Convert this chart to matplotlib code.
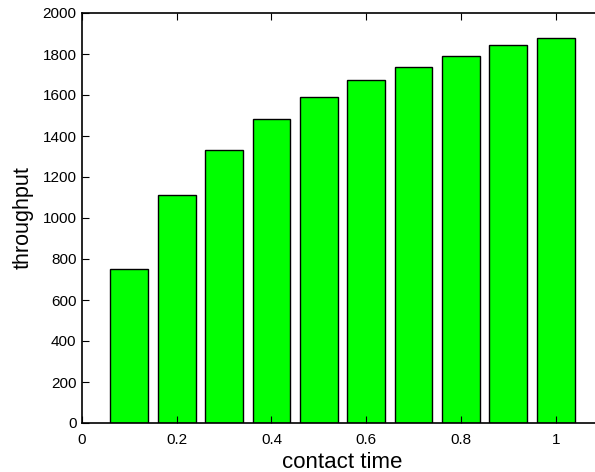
import numpy as np
import matplotlib.pyplot as plt

# ── Data ──────────────────────────────────────────────────────────────────────
contact_time = [0.1, 0.2, 0.3, 0.4, 0.5, 0.6, 0.7, 0.8, 0.9, 1.0]
throughput = [750, 1110, 1330, 1485, 1590, 1675, 1735, 1790, 1845, 1880]
x_ticks = [0, 0.2, 0.4, 0.6, 0.8, 1.0]
x_tick_labels = ["0", "0.2", "0.4", "0.6", "0.8", "1"]
y_ticks = [0, 200, 400, 600, 800, 1000, 1200, 1400, 1600, 1800, 2000]

plt.rcParams["font.family"] = ["Liberation Sans", "DejaVu Sans"]

fig = plt.figure(figsize=(5.95, 4.72), dpi=100)
# axes run slightly past the right edge of the figure
ax = fig.add_axes([82 / 595, 49 / 472, 521 / 595, 410 / 472])

ax.bar(contact_time, throughput, width=0.08, color="#00ff00",
       edgecolor="black", linewidth=1.0)

ax.set_xlim(0, 1.1)
ax.set_ylim(0, 2000)
ax.set_xticks(x_ticks)
ax.set_xticklabels(x_tick_labels)
ax.set_yticks(y_ticks)
ax.tick_params(direction="in", top=True, right=True, length=5,
               labelsize=11, width=0.8)
ax.tick_params(axis="x", pad=7)
ax.tick_params(axis="y", pad=4)
for s in ax.spines.values():
    s.set_linewidth(1.2)

ax.set_xlabel("contact time", fontsize=16, labelpad=4)
ax.set_ylabel("throughput", fontsize=15.5, labelpad=6)

fig.savefig("out.png", dpi=100)
